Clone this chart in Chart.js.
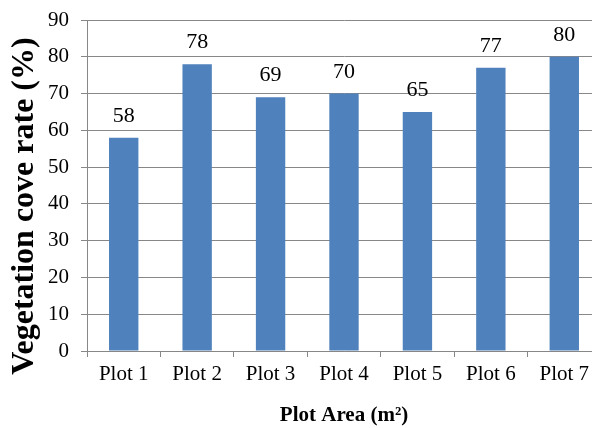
<!DOCTYPE html>
<html lang="en">
<head>
  <meta charset="UTF-8"/>
  <title>Vegetation cove rate</title>
  <style>
    body { margin: 0; background: #fff; overflow: hidden; }
    .wrap { width: 612px; height: 428px; position: relative; }
  </style>
  <script src="https://cdn.jsdelivr.net/npm/chart.js"></script>
</head>
<body>
  <div class="wrap"><canvas id="chart"></canvas></div>
  <script>
    // data
    const plots = ['Plot 1','Plot 2','Plot 3','Plot 4','Plot 5','Plot 6','Plot 7'];
    const coverRate = [58, 78, 69, 70, 65, 77, 80];
    const yTicks = [0, 10, 20, 30, 40, 50, 60, 70, 80, 90];
    const yTitle = 'Vegetation cove rate (%)';

    const serif = "'Liberation Serif', 'Times New Roman', serif";
    const gridCol = '#878787';

    // value labels above bars + rotated y title (sits a bit below centre, like the original)
    const barLabels = {
      id: 'barLabels',
      afterDatasetsDraw(chart) {
        const ctx = chart.ctx;
        const meta = chart.getDatasetMeta(0);
        ctx.save();
        ctx.font = '22px ' + serif;
        ctx.fillStyle = '#000';
        ctx.textAlign = 'center';
        ctx.textBaseline = 'alphabetic';
        meta.data.forEach((bar, i) => {
          ctx.fillText(coverRate[i], bar.x, bar.y - 16);
        });
        ctx.translate(33, 206);
        ctx.rotate(-Math.PI / 2);
        ctx.font = 'bold 32px ' + serif;
        ctx.fillText(yTitle, 0, 0);
        ctx.restore();
      }
    };

    new Chart(document.getElementById('chart'), {
      type: 'bar',
      data: {
        labels: plots,
        datasets: [{
          data: coverRate,
          backgroundColor: '#4F81BD',
          barPercentage: 0.8,
          categoryPercentage: 0.5
        }]
      },
      options: {
        responsive: true, maintainAspectRatio: false, animation: false,
        layout: { padding: { top: 20, right: 11, left: 0, bottom: 0 } },
        plugins: { legend: { display: false }, tooltip: { enabled: false } },
        scales: {
          x: {
            afterFit: s => { s.height = 77; },
            grid: { display: true, drawOnChartArea: false, offset: true, tickLength: 6, color: gridCol },
            border: { color: gridCol },
            ticks: { color: '#000', font: { family: serif, size: 21 }, padding: 5 },
            title: { display: true, text: 'Plot Area (m²)', color: '#000',
                     font: { family: serif, size: 21, weight: 'bold' }, padding: { top: 11, bottom: 0 } }
          },
          y: {
            min: 0, max: 90,
            afterFit: s => { s.width = 87; s.paddingTop = 0; s.paddingBottom = 0; },
            afterBuildTicks: s => { s.ticks = yTicks.map(v => ({ value: v })); },
            grid: { color: gridCol, tickLength: 6 },
            border: { color: gridCol },
            ticks: { color: '#000', font: { family: serif, size: 21 }, padding: 12 }
          }
        }
      },
      plugins: [barLabels]
    });
  </script>
</body>
</html>
